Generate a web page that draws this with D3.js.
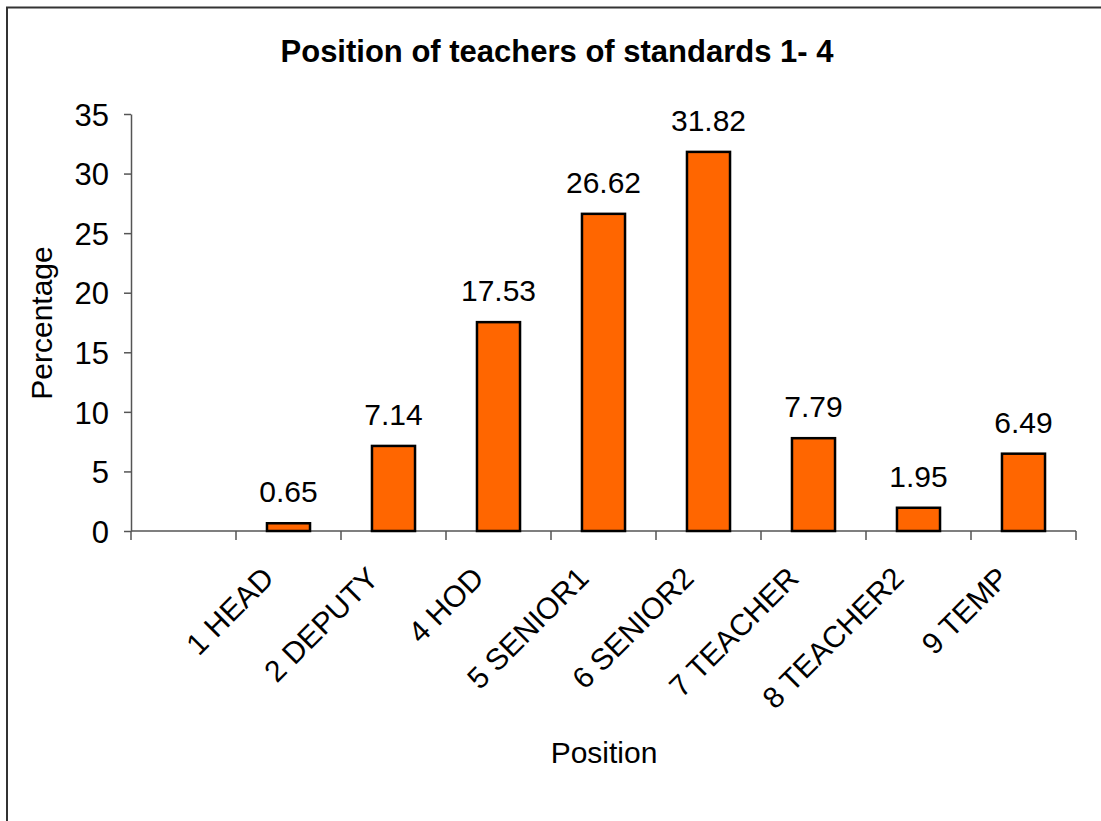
<!DOCTYPE html>
<meta charset="utf-8">
<style>
body { margin: 0; background: #fff; }
text { font-family: "Liberation Sans", Arial, sans-serif; fill: #000; }
.title { font-size: 31px; font-weight: bold; }
.axis text { font-size: 30px; }
.axis .tick text { font-size: 31px; }
.axis path, .axis line { stroke: #555; stroke-width: 1.5; }
.bar { fill: #ff6600; stroke: #000; stroke-width: 2.5; }
.lbl { font-size: 30px; }
</style>
<svg width="1101" height="821"></svg>
<script src="https://cdn.jsdelivr.net/npm/d3@7"></script>
<script>

// first slot is empty in the original chart
var categories = ["", "1 HEAD", "2 DEPUTY", "4 HOD", "5 SENIOR1", "6 SENIOR2", "7 TEACHER", "8 TEACHER2", "9 TEMP"];
var values = [null, 0.65, 7.14, 17.53, 26.62, 31.82, 7.79, 1.95, 6.49];
var yTicks = [0, 5, 10, 15, 20, 25, 30, 35];

var svg = d3.select("svg");

// frame
svg.append("rect")
    .attr("x", 7).attr("y", 7.5)
    .attr("width", 1110).attr("height", 830)
    .attr("fill", "none")
    .attr("stroke", "#333")
    .attr("stroke-width", 2);

var plotLeft = 131, plotRight = 1076, plotTop = 114, plotBottom = 531;

var x = d3.scaleBand()
    .domain(d3.range(categories.length))
    .range([plotLeft, plotRight])
    .paddingInner(0.59)
    .paddingOuter(0.295);

var y = d3.scaleLinear()
    .domain([0, 35])
    .range([plotBottom, plotTop]);

svg.append("text")
    .attr("class", "title")
    .attr("x", 557).attr("y", 62)
    .attr("text-anchor", "middle")
    .text("Position of teachers of standards 1- 4");

// y axis
var gy = svg.append("g")
    .attr("class", "axis")
    .attr("transform", "translate(" + plotLeft + ",0)")
    .call(d3.axisLeft(y).tickValues(yTicks).tickSize(7).tickSizeOuter(0).tickPadding(15));
gy.selectAll("text").attr("dy", "0.36em");

// x axis: ticks at slot boundaries
var step = x.step();
var bounds = d3.range(categories.length + 1).map(function(i) { return plotLeft + i * step; });
var gx = svg.append("g").attr("class", "axis");
gx.append("line")
    .attr("x1", plotLeft).attr("x2", plotRight)
    .attr("y1", plotBottom).attr("y2", plotBottom);
gx.selectAll(".tk")
    .data(bounds)
  .enter().append("line")
    .attr("class", "tk")
    .attr("x1", function(d) { return d; }).attr("x2", function(d) { return d; })
    .attr("y1", plotBottom).attr("y2", plotBottom + 9);

gx.selectAll(".cat")
    .data(categories)
  .enter().append("text")
    .attr("class", "cat")
    .attr("text-anchor", "end")
    .attr("transform", function(d, i) {
      var cx = x(i) + x.bandwidth() / 2;
      return "translate(" + (cx - 13) + "," + (plotBottom + 49) + ") rotate(-45)";
    })
    .text(function(d) { return d; });

// bars
var data = values.map(function(v, i) { return { i: i, v: v }; }).filter(function(d) { return d.v != null; });

svg.selectAll(".bar")
    .data(data)
  .enter().append("rect")
    .attr("class", "bar")
    .attr("x", function(d) { return x(d.i); })
    .attr("width", x.bandwidth())
    .attr("y", function(d) { return y(d.v); })
    .attr("height", function(d) { return y(0) - y(d.v); });

svg.selectAll(".lbl")
    .data(data)
  .enter().append("text")
    .attr("class", "lbl")
    .attr("text-anchor", "middle")
    .attr("x", function(d) { return x(d.i) + x.bandwidth() / 2; })
    .attr("y", function(d) { return y(d.v) - 21; })
    .text(function(d) { return d.v.toFixed(2); });

// axis titles
svg.append("text")
    .attr("class", "lbl")
    .attr("x", 604).attr("y", 763)
    .attr("text-anchor", "middle")
    .text("Position");

svg.append("text")
    .attr("class", "lbl")
    .attr("transform", "translate(52,323) rotate(-90)")
    .attr("text-anchor", "middle")
    .text("Percentage");

</script>
